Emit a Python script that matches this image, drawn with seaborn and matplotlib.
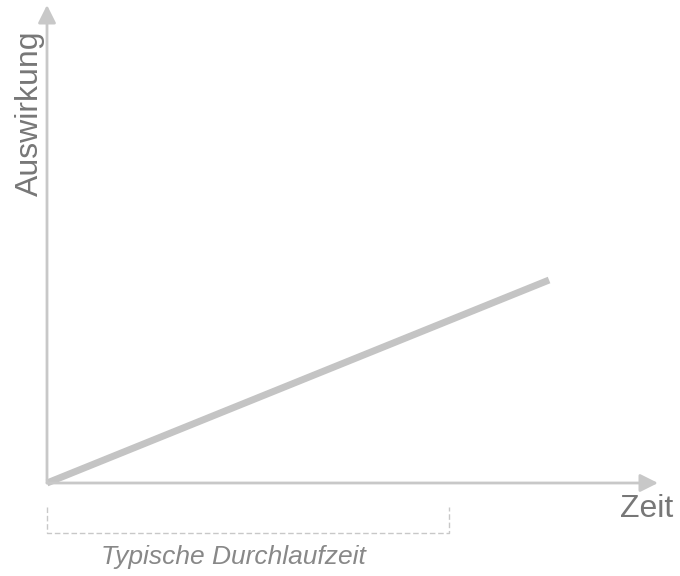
import matplotlib
matplotlib.use("Agg")
import matplotlib.pyplot as plt
import seaborn as sns
import pandas as pd

# Daten: lineare Auswirkung über die Zeit
zeit = [0, 10]
auswirkung = [0, 4]
durchlaufzeit = 8  # typische Durchlaufzeit (Klammer unter der x-Achse)

sns.set_theme(style="white")
plt.rcParams['font.family'] = ['Liberation Sans', 'DejaVu Sans']

W, H = 680, 576
fig = plt.figure(figsize=(W / 100, H / 100), dpi=100)
# Achsenursprung bei Pixel (47, 483), Pfeilspitzen bei x=658 bzw. y=5
ax = fig.add_axes([47 / W, (H - 483) / H, (658 - 47) / W, (483 - 5) / H])
ax.set_xlim(0, 12.17)
ax.set_ylim(0, 9.42)
ax.axis("off")

df = pd.DataFrame({"Zeit": zeit, "Auswirkung": auswirkung})
sns.lineplot(data=df, x="Zeit", y="Auswirkung", ax=ax, color="#c4c4c4",
             linewidth=5, solid_capstyle="butt", clip_on=False)

# Achsen mit Pfeilen
arrow = dict(arrowstyle="-|>,head_length=0.9,head_width=0.45", lw=2,
             color="#c8c8c8", shrinkA=0, shrinkB=0, mutation_scale=12)
ax.annotate("", xy=(1, 0), xytext=(0, 0), xycoords="axes fraction",
            arrowprops=arrow, annotation_clip=False)
ax.annotate("", xy=(0, 1), xytext=(0, 0), xycoords="axes fraction",
            arrowprops=arrow, annotation_clip=False)

# gestrichelte Klammer
ax.plot([0, 0, durchlaufzeit, durchlaufzeit], [-0.47, -0.98, -0.98, -0.47],
        color="#c8c8c8", lw=1, ls=(0, (4, 2)), clip_on=False)

fig.text(673 / W, 1 - 509 / H, "Zeit", ha="right", va="center",
         fontsize=23, color="#777777")
fig.text(30 / W, 1 - 113 / H, "Auswirkung", ha="center", va="center",
         rotation=90, fontsize=23, color="#777777")
fig.text(233 / W, 1 - 557 / H, "Typische Durchlaufzeit", ha="center",
         va="center", fontsize=19, style="italic", color="#888888")

fig.savefig("out.png", dpi=100)
